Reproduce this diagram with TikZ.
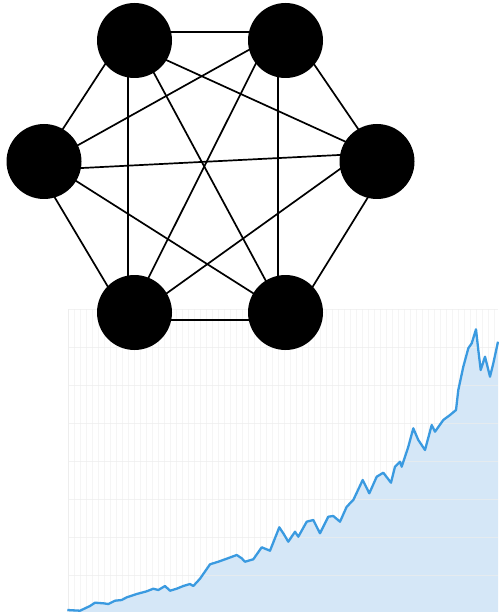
\documentclass[tikz,border=0pt]{standalone}
\usetikzlibrary{calc}
\pgfdeclarelayer{bg}
\pgfsetlayers{bg,main}
\definecolor{chartfill}{HTML}{D5E7F7}
\definecolor{chartline}{HTML}{3A9AE0}
\definecolor{hgridc}{HTML}{EDEDED}
\definecolor{vgridc}{HTML}{F5F5F5}
\newcommand\curvepath{(67.3,610) -- (80,610.7) -- (90,606) -- (95,602.7) -- (103.3,603.3) -- (108.3,604) -- (115,600.7) -- (121.7,600) -- (126.7,597.3) -- (136.7,594) -- (146.7,591.3) -- (153.3,588.7) -- (158.3,590) -- (165,586) -- (170,590.7) -- (176.7,588.7) -- (183.3,586) -- (190,584) -- (193.3,586) -- (200,578.7) -- (210,564.3) -- (218.3,561.7) -- (226.7,558.7) -- (236.7,555) -- (241.7,558.3) -- (245,561.7) -- (253.3,559.3) -- (261.7,547.3) -- (270,550.7) -- (279.3,527.3) -- (283.3,533.3) -- (288.3,541.7) -- (295,531.7) -- (298.3,536.7) -- (306.7,521.7) -- (313.3,520) -- (320,533.3) -- (328.3,516.7) -- (333.3,516) -- (340,521.7) -- (346.7,506.7) -- (353.3,500) -- (362.7,480) -- (369.3,493.3) -- (376.7,476.7) -- (383.3,472.7) -- (391,482.7) -- (395,466.7) -- (400,461.7) -- (401.7,466.7) -- (408.3,446.7) -- (413.3,428.3) -- (418.3,440) -- (425,450) -- (431.7,425) -- (435,431.7) -- (443.3,420) -- (450,415) -- (456,410) -- (458.3,390) -- (463.3,366.7) -- (468.3,348.3) -- (471.7,343.3) -- (476,329.3) -- (478.3,350) -- (480.7,370) -- (485,356.7) -- (490,376.7) -- (493.3,363.3) -- (498,341.7)}
\begin{document}
\begin{tikzpicture}[x=1pt,y=-1pt,
  vtx/.style={circle,fill=black,minimum size=75pt,inner sep=0pt},
  edge/.style={line width=1.7pt,black,shorten <=-12pt,shorten >=-12pt},
  hgrid/.style={draw=hgridc,line width=0.9pt},
  vgrid/.style={draw=vgridc,line width=0.6pt},
  curveline/.style={draw=chartline,line width=2.3pt,line join=round},
]
\useasboundingbox (0,0) rectangle (498,612);
\clip (0,0) rectangle (498,612);
% vertices
\node[vtx] (tl) at (134.5,40.5) {};
\node[vtx] (tr) at (285.5,40.5) {};
\node[vtx] (l)  at (44,161.5) {};
\node[vtx] (r)  at (377,161.5) {};
\node[vtx] (bl) at (134.5,312.5) {};
\node[vtx] (br) at (285.5,312.5) {};
\begin{pgfonlayer}{bg}
  % chart
  \foreach \x in {68,74,...,498} \draw[vgrid] (\x,309) -- (\x,612);
  \fill[chartfill] (67.3,612) -- \curvepath -- (498,612) -- cycle;
  \foreach \y in {309.3,347.3,385.3,423.3,461.3,499.3,537.3,575.3} \draw[hgrid,opacity=0.7] (68,\y) -- (498,\y);
  \draw[hgrid] (68,309) -- (68,612);
  \draw[curveline] \curvepath;
  % edges
  \draw[edge] ($(tl)+(37.5,-8.2)$) -- ($(tr)+(-37.5,-8.2)$);
  \draw[edge] ($(tl)+(-28.8,22.8)$) -- ($(l)+(19.3,-33.2)$);
  \draw[edge] ($(tl)+(-6.5,37.5)$) -- ($(bl)+(-6.5,-37.5)$);
  \draw[edge] ($(tl)+(33.2,20.2)$) -- ($(r)+(-33.7,-20.8)$);
  \draw[edge] ($(tl)+(20.5,34.5)$) -- ($(br)+(-20.5,-33.2)$);
  \draw[edge] ($(tr)+(-33.8,7.8)$) -- ($(l)+(34.3,-16.5)$);
  \draw[edge] ($(tr)+(29.5,25.2)$) -- ($(r)+(-19.3,-33.2)$);
  \draw[edge] ($(tr)+(-29.5,22.8)$) -- ($(bl)+(14.5,-35.8)$);
  \draw[edge] ($(tr)+(-7.2,37.5)$) -- ($(br)+(-7.2,-37.5)$);
  \draw[edge] ($(l)+(38,6.5)$) -- ($(r)+(-38,-6.5)$);
  \draw[edge] ($(l)+(10.3,35.2)$) -- ($(bl)+(-27.2,-26.8)$);
  \draw[edge] ($(l)+(33.3,20.2)$) -- ($(br)+(-32.2,-19.2)$);
  \draw[edge] ($(r)+(-37,7.5)$) -- ($(bl)+(32.2,-19.2)$);
  \draw[edge] ($(r)+(-9.3,36.2)$) -- ($(br)+(27.8,-26.8)$);
  \draw[edge] ($(bl)+(37.5,7.5)$) -- ($(br)+(-37.5,7.5)$);
\end{pgfonlayer}
\end{tikzpicture}
\end{document}
